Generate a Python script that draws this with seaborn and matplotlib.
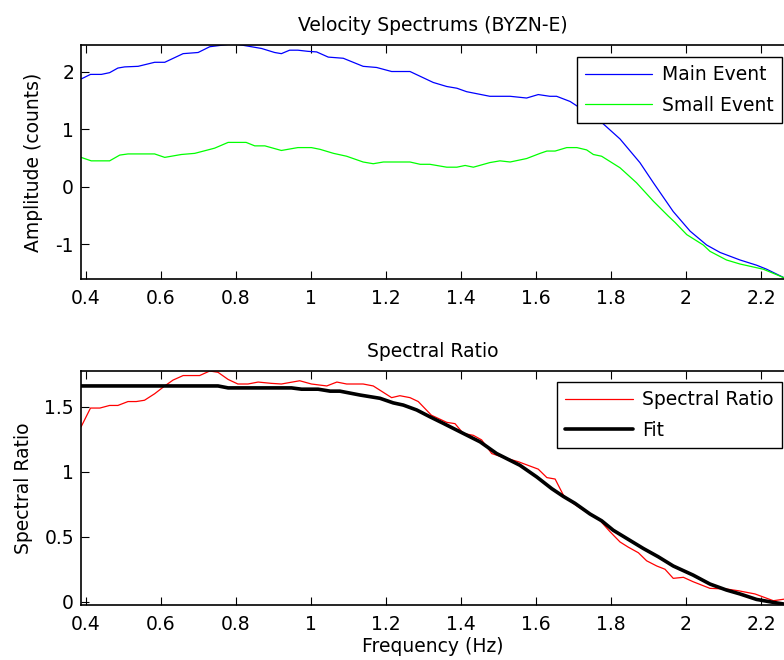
import numpy as np
import pandas as pd
import matplotlib
matplotlib.use("Agg")
import matplotlib.pyplot as plt
import seaborn as sns

# ---------------- data ----------------
main_f = [0.387, 0.412, 0.441, 0.463, 0.485, 0.503, 0.539, 0.583, 0.610, 0.659, 0.699, 0.730,
          0.779, 0.805, 0.832, 0.868, 0.903, 0.921, 0.943, 0.965, 0.992, 1.015, 1.046, 1.086,
          1.139, 1.175, 1.215, 1.264, 1.326, 1.362, 1.389, 1.415, 1.477, 1.531, 1.575, 1.606,
          1.637, 1.655, 1.691, 1.771, 1.824, 1.877, 1.913, 1.966, 2.011, 2.055, 2.091, 2.144,
          2.188, 2.215, 2.262]
main_amp = [1.87, 1.95, 1.95, 1.98, 2.06, 2.08, 2.09, 2.16, 2.16, 2.31, 2.33, 2.43,
            2.47, 2.47, 2.44, 2.40, 2.33, 2.31, 2.37, 2.37, 2.35, 2.34, 2.25, 2.23,
            2.09, 2.07, 2.00, 2.00, 1.81, 1.74, 1.71, 1.65, 1.57, 1.57, 1.54, 1.60,
            1.57, 1.57, 1.48, 1.14, 0.83, 0.42, 0.07, -0.43, -0.77, -1.01, -1.14, -1.27,
            -1.36, -1.43, -1.58]

small_f = [0.387, 0.414, 0.463, 0.490, 0.512, 0.583, 0.610, 0.654, 0.690, 0.743, 0.779, 0.827,
           0.850, 0.877, 0.921, 0.965, 1.001, 1.024, 1.060, 1.095, 1.139, 1.166, 1.193, 1.264,
           1.291, 1.317, 1.362, 1.389, 1.411, 1.433, 1.477, 1.504, 1.531, 1.575, 1.611, 1.629,
           1.651, 1.682, 1.709, 1.735, 1.753, 1.775, 1.824, 1.868, 1.913, 1.953, 1.971, 2.002,
           2.046, 2.064, 2.108, 2.144, 2.206, 2.262]
small_amp = [0.51, 0.45, 0.45, 0.55, 0.57, 0.57, 0.51, 0.56, 0.58, 0.67, 0.77, 0.77,
             0.71, 0.71, 0.63, 0.68, 0.68, 0.65, 0.58, 0.53, 0.43, 0.40, 0.43, 0.43,
             0.39, 0.39, 0.34, 0.34, 0.37, 0.34, 0.42, 0.45, 0.43, 0.49, 0.58, 0.62,
             0.62, 0.68, 0.68, 0.64, 0.56, 0.53, 0.33, 0.07, -0.25, -0.51, -0.62, -0.83,
             -1.01, -1.12, -1.27, -1.34, -1.43, -1.58]

ratio_f = [0.387, 0.412, 0.437, 0.463, 0.485, 0.512, 0.534, 0.556, 0.583, 0.610, 0.632, 0.659,
           0.703, 0.730, 0.752, 0.779, 0.805, 0.832, 0.859, 0.894, 0.921, 0.970, 1.001, 1.042,
           1.069, 1.095, 1.139, 1.166, 1.215, 1.237, 1.264, 1.286, 1.321, 1.362, 1.384, 1.406,
           1.433, 1.455, 1.482, 1.508, 1.553, 1.606, 1.629, 1.651, 1.673, 1.699, 1.726, 1.766,
           1.797, 1.824, 1.846, 1.873, 1.895, 1.922, 1.944, 1.966, 1.993, 2.019, 2.064, 2.108,
           2.139, 2.184, 2.233, 2.262]
ratio_val = [1.346, 1.49, 1.49, 1.51, 1.51, 1.54, 1.54, 1.55, 1.60, 1.66, 1.705, 1.74,
             1.74, 1.775, 1.765, 1.71, 1.675, 1.675, 1.69, 1.68, 1.675, 1.70, 1.675, 1.66,
             1.69, 1.675, 1.675, 1.66, 1.57, 1.585, 1.57, 1.54, 1.435, 1.38, 1.37, 1.295,
             1.28, 1.245, 1.14, 1.115, 1.077, 1.02, 0.955, 0.944, 0.82, 0.757, 0.705, 0.64,
             0.54, 0.46, 0.42, 0.377, 0.315, 0.275, 0.25, 0.18, 0.188, 0.154, 0.103, 0.098,
             0.085, 0.06, 0.008, 0.02]

fit_f = [0.387, 0.752, 0.779, 0.948, 0.975, 1.019, 1.051, 1.077, 1.131, 1.184, 1.219, 1.246,
         1.282, 1.317, 1.353, 1.406, 1.451, 1.495, 1.557, 1.602, 1.642, 1.673, 1.704, 1.744,
         1.775, 1.806, 1.846, 1.886, 1.926, 1.966, 2.019, 2.064, 2.108, 2.144, 2.188, 2.233,
         2.262]
fit_val = [1.66, 1.66, 1.645, 1.645, 1.635, 1.635, 1.62, 1.62, 1.59, 1.565, 1.53, 1.513,
           1.475, 1.423, 1.372, 1.295, 1.23, 1.14, 1.05, 0.96, 0.87, 0.81, 0.757, 0.675,
           0.623, 0.55, 0.48, 0.41, 0.346, 0.275, 0.205, 0.136, 0.09, 0.06, 0.018, -0.005,
           -0.018]

x_ticks = [0.4, 0.6, 0.8, 1.0, 1.2, 1.4, 1.6, 1.8, 2.0, 2.2]
x_ticklabels = ["0.4", "0.6", "0.8", "1", "1.2", "1.4", "1.6", "1.8", "2", "2.2"]
top_yticks = [-1, 0, 1, 2]
top_yticklabels = ["-1", "0", "1", "2"]
bot_yticks = [0, 0.5, 1, 1.5]
bot_yticklabels = ["0", "0.5", "1", "1.5"]

# ---------------- style ----------------
sns.set_style("white")
plt.rcParams["font.family"] = ["DejaVu Sans"]
FS = 13.5
plt.rcParams["font.size"] = FS
plt.rcParams["text.color"] = "black"
plt.rcParams["axes.labelcolor"] = "black"
plt.rcParams["xtick.color"] = "black"
plt.rcParams["ytick.color"] = "black"
plt.rcParams["xtick.direction"] = "in"
plt.rcParams["ytick.direction"] = "in"

W, H = 784, 660
fig = plt.figure(figsize=(W / 100, H / 100), dpi=100)
fig.patch.set_facecolor("white")


def px_axes(left, top, right, bottom):
    return fig.add_axes([left / W, 1 - bottom / H, (right - left) / W, (bottom - top) / H])


ax1 = px_axes(81, 45, 784, 279)
ax2 = px_axes(81, 371, 784, 605)

top_df = pd.concat([
    pd.DataFrame({"f": main_f, "v": main_amp, "s": "Main Event"}),
    pd.DataFrame({"f": small_f, "v": small_amp, "s": "Small Event"}),
])
sns.lineplot(data=top_df, x="f", y="v", hue="s", palette={"Main Event": "#0000ff", "Small Event": "#00ff00"},
             linewidth=0.9, ax=ax1, estimator=None, sort=False)

sns.lineplot(x=ratio_f, y=ratio_val, color="#ff0000", linewidth=0.9, ax=ax2, label="Spectral Ratio",
             estimator=None, sort=False)
sns.lineplot(x=fit_f, y=fit_val, color="black", linewidth=2.6, ax=ax2, label="Fit",
             estimator=None, sort=False)

xlim = (0.4 - 5 / 375, 0.4 + 698 / 375)
for ax, yl, yt, ytl in [(ax1, (-1.6, 2.46), top_yticks, top_yticklabels),
                        (ax2, (-0.025, 1.775), bot_yticks, bot_yticklabels)]:
    ax.set_xlim(*xlim)
    ax.set_ylim(*yl)
    ax.set_xticks(x_ticks)
    ax.set_xticklabels(x_ticklabels)
    ax.set_yticks(yt)
    ax.set_yticklabels(ytl)
    ax.tick_params(axis="both", which="both", direction="in", length=6, width=0.8, colors="black",
                   labelcolor="black", labelsize=FS, top=True, bottom=True, left=True, right=False)
    ax.tick_params(axis="x", pad=7)
    ax.tick_params(axis="y", pad=5)
    for side in ["left", "top", "bottom"]:
        ax.spines[side].set_visible(True)
        ax.spines[side].set_color("black")
        ax.spines[side].set_linewidth(1.2)
    ax.spines["right"].set_visible(False)
    ax.set_facecolor("white")

ax1.set_xlabel("")
ax1.set_ylabel("Amplitude (counts)", fontsize=FS, labelpad=9, color="black")
ax1.set_title("Velocity Spectrums (BYZN-E)", fontsize=FS, pad=10, color="black")
ax2.set_xlabel("Frequency (Hz)", fontsize=FS, labelpad=2, color="black")
ax2.set_ylabel("Spectral Ratio", fontsize=FS, labelpad=8, color="black")
ax2.set_title("Spectral Ratio", fontsize=FS, pad=10, color="black")

for ax, top_px in [(ax1, 57), (ax2, 382)]:
    handles, labels = ax.get_legend_handles_labels()
    leg = ax.legend(handles, labels, loc="upper right", bbox_to_anchor=(782 / W, 1 - top_px / H),
                    bbox_transform=fig.transFigure, borderaxespad=0, fancybox=False, framealpha=1,
                    edgecolor="black", fontsize=FS, handlelength=3.6, handletextpad=0.5,
                    borderpad=0.45, labelspacing=0.6, labelcolor="black")
    leg.get_frame().set_linewidth(1.0)

fig.savefig("out.png", dpi=100, facecolor="white")
